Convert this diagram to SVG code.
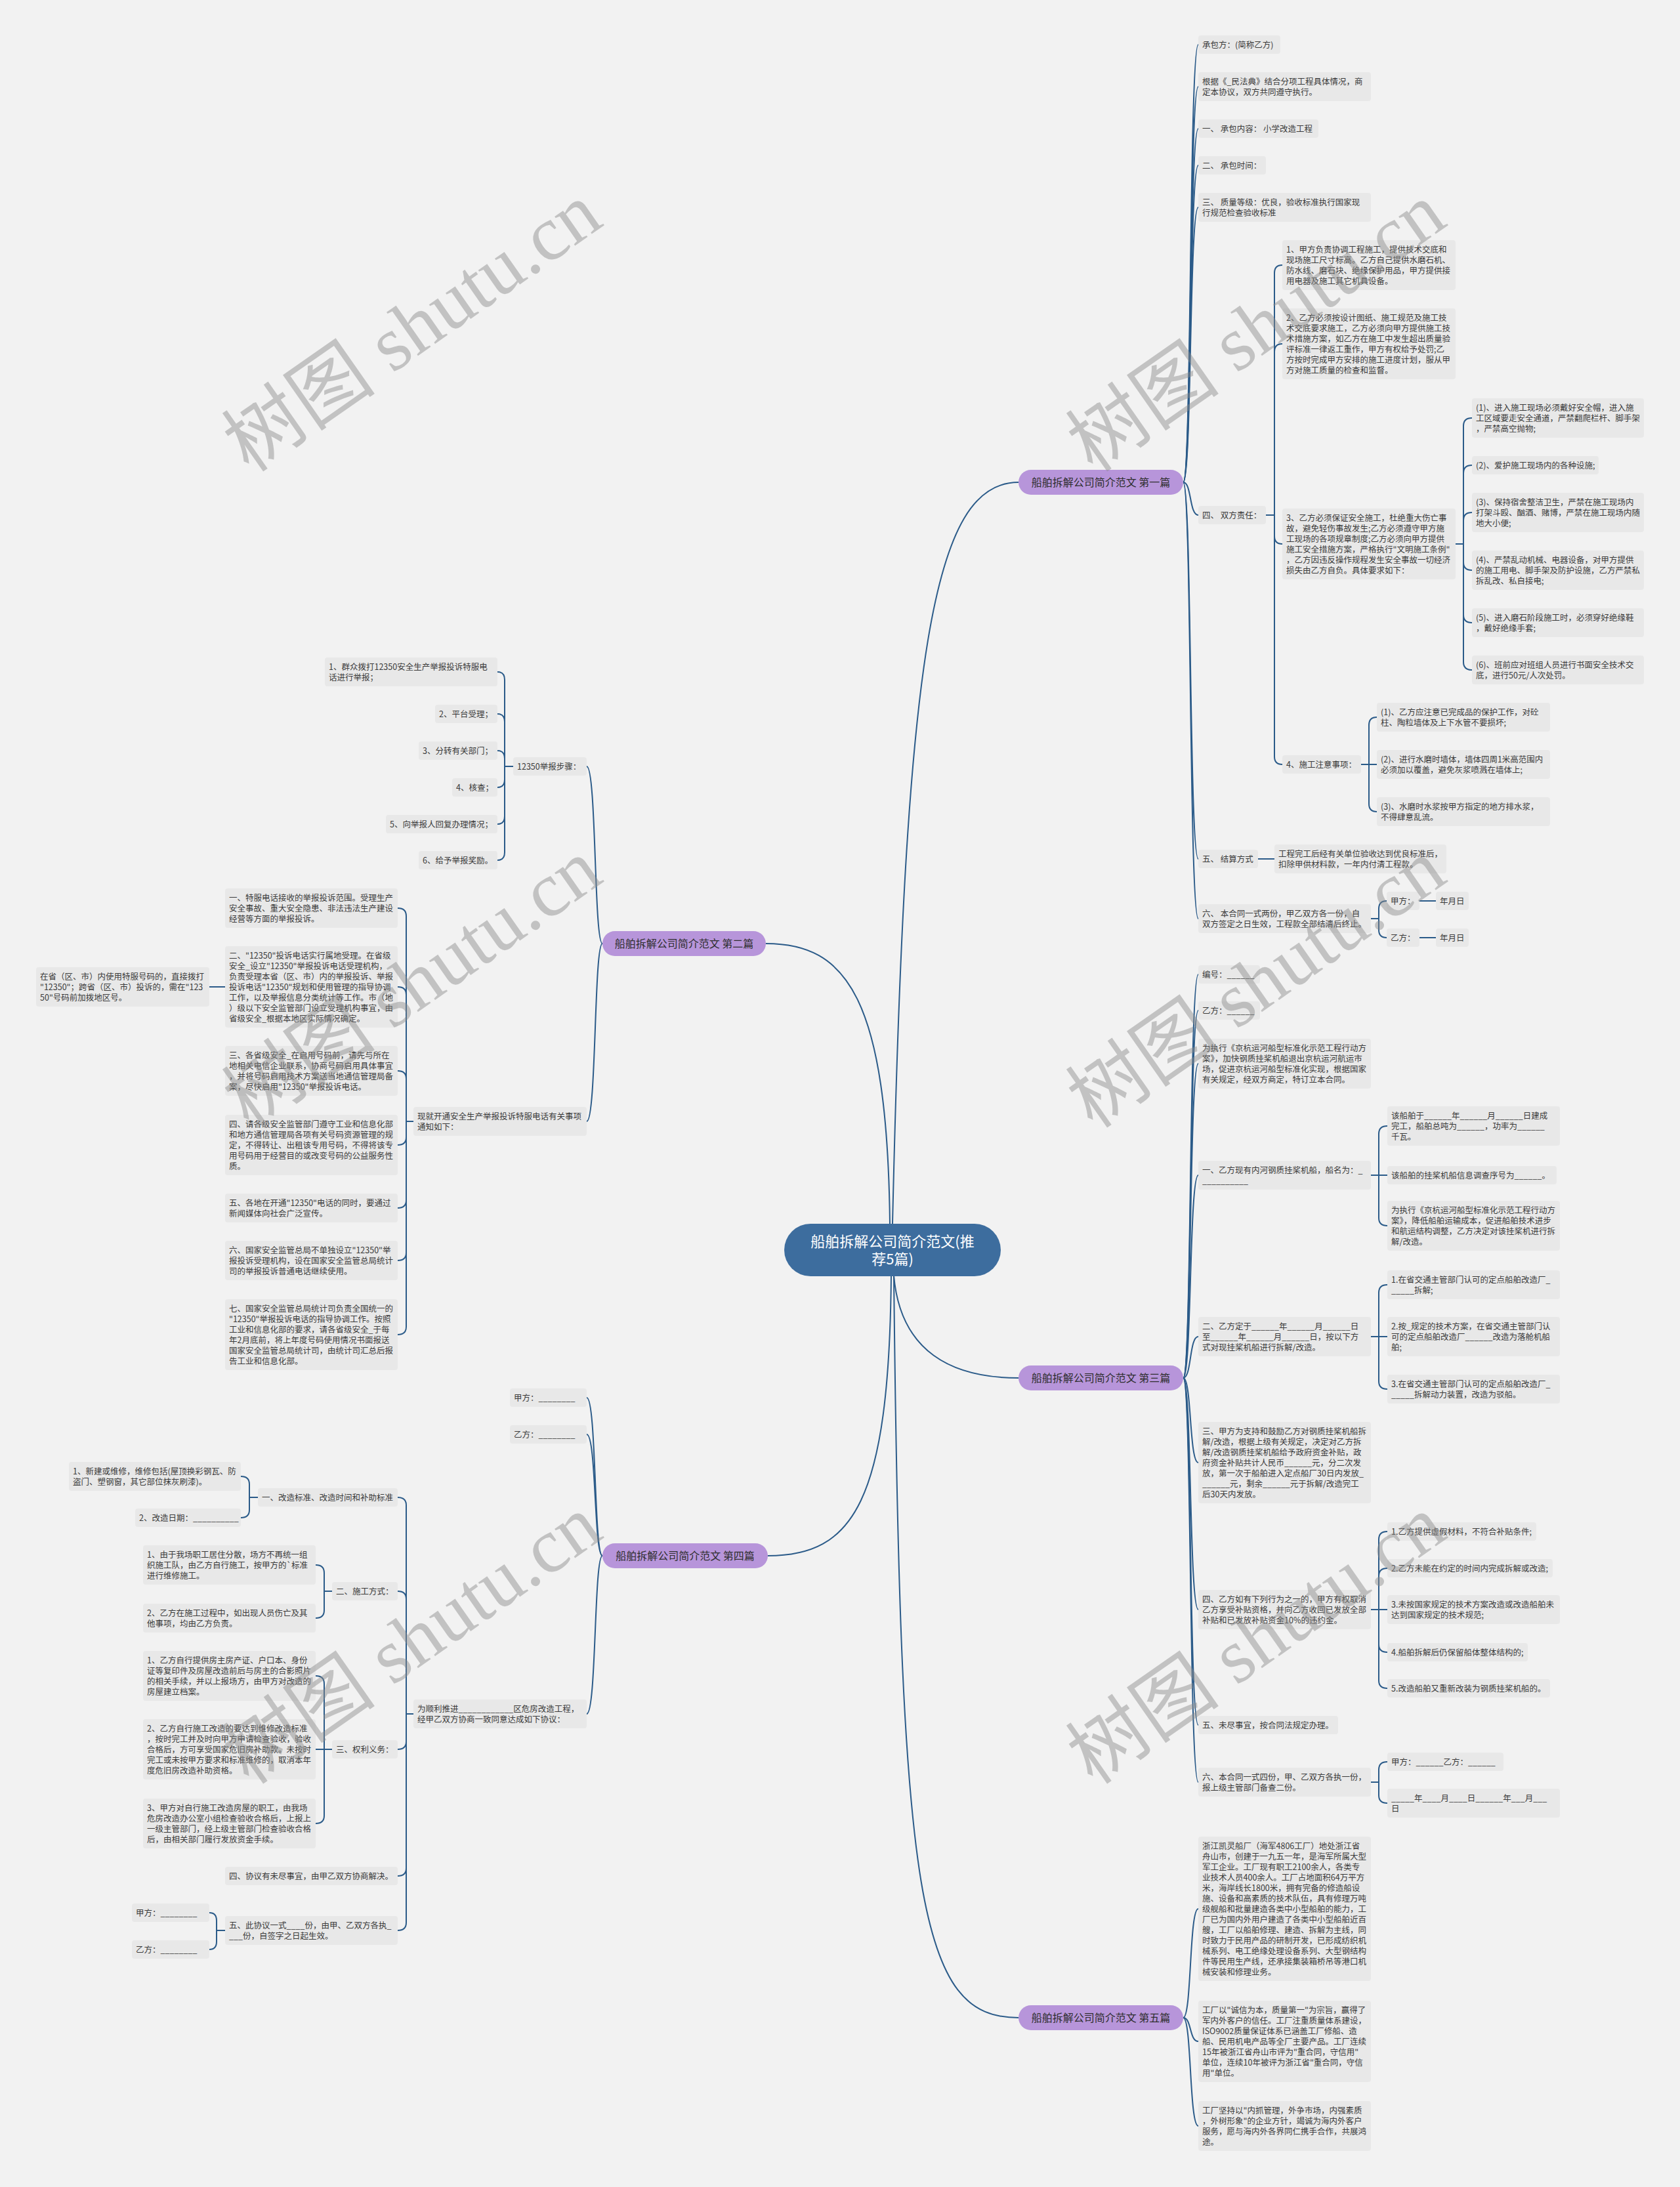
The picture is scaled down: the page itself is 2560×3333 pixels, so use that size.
<svg xmlns="http://www.w3.org/2000/svg" width="2560" height="3333" viewBox="0 0 2560 3333">
<style>
.lb{fill:#e8e8e8}
.lt{font-family:"Noto Sans CJK SC","Noto Sans",sans-serif;font-size:12.5px;fill:#3a3a3a}
.bn{fill:#b795da}
.bt{font-family:"Noto Sans CJK SC",sans-serif;font-size:16px;fill:#2e2e2e;text-anchor:middle}
.cn{fill:#3d6d9e}
.ct{font-family:"Noto Sans CJK SC",sans-serif;font-size:22px;fill:#ffffff;text-anchor:middle}
.edges path{fill:none;stroke:#2b5b89;stroke-width:2}
.wm{font-family:"Liberation Serif","Noto Sans CJK SC",serif;font-size:118px;fill:#8a8a8a;opacity:0.45}
</style>
<rect x="0" y="0" width="2560" height="3333" fill="#f2f2f2"/>
<g class="edges" id="connectors">
<path d="M1360 1865 C1380 1000 1420 735 1552 735"/>
<path d="M1356 1865 C1352 1520 1290 1438 1167 1438"/>
<path d="M1362 1944 C1372 2060 1450 2100 1552 2100"/>
<path d="M1358 1944 C1355 2290 1300 2371 1170 2371"/>
<path d="M1362 1944 C1372 2900 1400 3075 1552 3075"/>
<path d="M1803 735 C1816 735 1812 68 1826 68"/>
<path d="M1803 735 C1816 735 1812 132 1826 132"/>
<path d="M1803 735 C1816 735 1812 196 1826 196"/>
<path d="M1803 735 C1816 735 1812 252 1826 252"/>
<path d="M1803 735 C1816 735 1812 316 1826 316"/>
<path d="M1803 735 C1816 735 1812 785 1826 785"/>
<path d="M1803 735 C1816 735 1812 1309 1826 1309"/>
<path d="M1803 735 C1816 735 1812 1400 1826 1400"/>
<path d="M1929 785 H1942 V416 Q1942 404 1954 404"/>
<path d="M1929 785 H1942 V536 Q1942 524 1954 524"/>
<path d="M1929 785 H1942 V817 Q1942 829 1954 829"/>
<path d="M1929 785 H1942 V1153 Q1942 1165 1954 1165"/>
<path d="M2218 829 H2230 V649 Q2230 637 2243 637"/>
<path d="M2218 829 H2230 V721 Q2230 709 2243 709"/>
<path d="M2218 829 H2230 V793 Q2230 781 2243 781"/>
<path d="M2218 829 H2230 V857 Q2230 869 2243 869"/>
<path d="M2218 829 H2230 V937 Q2230 949 2243 949"/>
<path d="M2218 829 H2230 V1009 Q2230 1021 2243 1021"/>
<path d="M2074 1165 H2086 V1105 Q2086 1093 2098 1093"/>
<path d="M2074 1165 H2098"/>
<path d="M2074 1165 H2086 V1225 Q2086 1237 2098 1237"/>
<path d="M1917 1309 H1942"/>
<path d="M2089 1400 H2101 V1385 Q2101 1373 2113 1373"/>
<path d="M2089 1400 H2101 V1417 Q2101 1429 2113 1429"/>
<path d="M2163 1373 H2188"/>
<path d="M2163 1429 H2188"/>
<path d="M1803 2100 C1816 2100 1812 1485 1826 1485"/>
<path d="M1803 2100 C1816 2100 1812 1540 1826 1540"/>
<path d="M1803 2100 C1816 2100 1812 1621 1826 1621"/>
<path d="M1803 2100 C1816 2100 1812 1791 1826 1791"/>
<path d="M1803 2100 C1816 2100 1812 2037 1826 2037"/>
<path d="M1803 2100 C1816 2100 1812 2229 1826 2229"/>
<path d="M1803 2100 C1816 2100 1812 2453 1826 2453"/>
<path d="M1803 2100 C1816 2100 1812 2629 1826 2629"/>
<path d="M1803 2100 C1816 2100 1812 2716 1826 2716"/>
<path d="M2089 1791 H2101 V1728 Q2101 1716 2114 1716"/>
<path d="M2089 1791 H2114"/>
<path d="M2089 1791 H2101 V1856 Q2101 1868 2114 1868"/>
<path d="M2089 2037 H2101 V1970 Q2101 1958 2114 1958"/>
<path d="M2089 2037 H2114"/>
<path d="M2089 2037 H2101 V2105 Q2101 2117 2114 2117"/>
<path d="M2089 2453 H2101 V2346 Q2101 2334 2114 2334"/>
<path d="M2089 2453 H2101 V2402 Q2101 2390 2114 2390"/>
<path d="M2089 2453 H2114"/>
<path d="M2089 2453 H2101 V2506 Q2101 2518 2114 2518"/>
<path d="M2089 2453 H2101 V2561 Q2101 2573 2114 2573"/>
<path d="M2089 2716 H2101 V2697 Q2101 2685 2114 2685"/>
<path d="M2089 2716 H2101 V2736 Q2101 2748 2114 2748"/>
<path d="M1803 3075 C1816 3075 1812 2909 1826 2909"/>
<path d="M1803 3075 C1816 3075 1812 3111 1826 3111"/>
<path d="M1803 3075 C1816 3075 1812 3240 1826 3240"/>
<path d="M918 1438 C905 1438 909 1168 894 1168"/>
<path d="M918 1438 C905 1438 909 1709 894 1709"/>
<path d="M782 1168 H769 V1036 Q769 1024 758 1024"/>
<path d="M782 1168 H769 V1100 Q769 1088 758 1088"/>
<path d="M782 1168 H769 V1156 Q769 1144 758 1144"/>
<path d="M782 1168 H769 V1188 Q769 1200 758 1200"/>
<path d="M782 1168 H769 V1244 Q769 1256 758 1256"/>
<path d="M782 1168 H769 V1299 Q769 1311 758 1311"/>
<path d="M630 1709 H619 V1396 Q619 1384 606 1384"/>
<path d="M630 1709 H619 V1516 Q619 1504 606 1504"/>
<path d="M630 1709 H619 V1644 Q619 1632 606 1632"/>
<path d="M630 1709 H619 V1733 Q619 1745 606 1745"/>
<path d="M630 1709 H619 V1829 Q619 1841 606 1841"/>
<path d="M630 1709 H619 V1909 Q619 1921 606 1921"/>
<path d="M630 1709 H619 V2022 Q619 2034 606 2034"/>
<path d="M343 1504 H319"/>
<path d="M918 2371 C905 2371 909 2130 894 2130"/>
<path d="M918 2371 C905 2371 909 2186 894 2186"/>
<path d="M918 2371 C905 2371 909 2612 894 2612"/>
<path d="M630 2612 H619 V2294 Q619 2282 606 2282"/>
<path d="M630 2612 H619 V2437 Q619 2425 606 2425"/>
<path d="M630 2612 H619 V2654 Q619 2666 606 2666"/>
<path d="M630 2612 H619 V2847 Q619 2859 606 2859"/>
<path d="M630 2612 H619 V2930 Q619 2942 606 2942"/>
<path d="M393 2282 H380 V2262 Q380 2250 367 2250"/>
<path d="M393 2282 H380 V2301 Q380 2313 367 2313"/>
<path d="M506 2425 H494 V2397 Q494 2385 481 2385"/>
<path d="M506 2425 H494 V2454 Q494 2466 481 2466"/>
<path d="M506 2666 H494 V2566 Q494 2554 481 2554"/>
<path d="M506 2666 H481"/>
<path d="M506 2666 H494 V2767 Q494 2779 481 2779"/>
<path d="M343 2942 H330 V2927 Q330 2915 319 2915"/>
<path d="M343 2942 H330 V2959 Q330 2971 319 2971"/>
</g>
<g id="n0"><rect class="cn" x="1195" y="1865" width="330" height="80" rx="40"/><text class="ct" x="1360" y="1900">船舶拆解公司简介范文(推</text><text class="ct" x="1360" y="1927">荐5篇)</text></g>
<g id="b1"><rect class="bn" x="1552" y="716" width="251" height="38" rx="19"/><text class="bt" x="1677.5" y="741">船舶拆解公司简介范文 第一篇</text></g>
<g id="b2"><rect class="bn" x="918" y="1419" width="249" height="38" rx="19"/><text class="bt" x="1042.5" y="1444">船舶拆解公司简介范文 第二篇</text></g>
<g id="b3"><rect class="bn" x="1552" y="2081" width="251" height="38" rx="19"/><text class="bt" x="1677.5" y="2106">船舶拆解公司简介范文 第三篇</text></g>
<g id="b4"><rect class="bn" x="918" y="2352" width="252" height="38" rx="19"/><text class="bt" x="1044" y="2377">船舶拆解公司简介范文 第四篇</text></g>
<g id="b5"><rect class="bn" x="1552" y="3056" width="251" height="38" rx="19"/><text class="bt" x="1677.5" y="3081">船舶拆解公司简介范文 第五篇</text></g>

<g id="b1-1"><rect class="lb" x="1826" y="54" width="125" height="28" rx="4"/><text class="lt" x="1832" y="72.5">承包方：(简称乙方)</text></g>
<g id="b1-2"><rect class="lb" x="1826" y="110" width="263" height="44" rx="4"/><text class="lt"><tspan x="1832" y="128.5">根据《_民法典》结合分项工程具体情况，商</tspan><tspan x="1832" y="144.5">定本协议，双方共同遵守执行。</tspan></text></g>
<g id="b1-3"><rect class="lb" x="1826" y="182" width="183" height="28" rx="4"/><text class="lt" x="1832" y="200.5">一、 承包内容： 小学改造工程</text></g>
<g id="b1-4"><rect class="lb" x="1826" y="238" width="103" height="28" rx="4"/><text class="lt" x="1832" y="256.5">二、 承包时间：</text></g>
<g id="b1-5"><rect class="lb" x="1826" y="294" width="263" height="44" rx="4"/><text class="lt"><tspan x="1832" y="312.5">三、 质量等级：优良，验收标准执行国家现</tspan><tspan x="1832" y="328.5">行规范检查验收标准</tspan></text></g>
<g id="b1-6"><rect class="lb" x="1826" y="771" width="103" height="28" rx="4"/><text class="lt" x="1832" y="789.5">四、 双方责任：</text></g>
<g id="b1-6-1"><rect class="lb" x="1954" y="366" width="264" height="76" rx="4"/><text class="lt"><tspan x="1960" y="384.5">1、甲方负责协调工程施工，提供技术交底和</tspan><tspan x="1960" y="400.5">现场施工尺寸标高。乙方自己提供水磨石机、</tspan><tspan x="1960" y="416.5">防水线、磨石块、绝缘保护用品，甲方提供接</tspan><tspan x="1960" y="432.5">用电器及施工其它机具设备。</tspan></text></g>
<g id="b1-6-2"><rect class="lb" x="1954" y="470" width="264" height="108" rx="4"/><text class="lt"><tspan x="1960" y="488.5">2、乙方必须按设计图纸、施工规范及施工技</tspan><tspan x="1960" y="504.5">术交底要求施工，乙方必须向甲方提供施工技</tspan><tspan x="1960" y="520.5">术措施方案，如乙方在施工中发生超出质量验</tspan><tspan x="1960" y="536.5">评标准一律返工重作，甲方有权给予处罚;乙</tspan><tspan x="1960" y="552.5">方按时完成甲方安排的施工进度计划，服从甲</tspan><tspan x="1960" y="568.5">方对施工质量的检查和监督。</tspan></text></g>
<g id="b1-6-3"><rect class="lb" x="1954" y="775" width="264" height="108" rx="4"/><text class="lt"><tspan x="1960" y="793.5">3、乙方必须保证安全施工，杜绝重大伤亡事</tspan><tspan x="1960" y="809.5">故，避免轻伤事故发生;乙方必须遵守甲方施</tspan><tspan x="1960" y="825.5">工现场的各项规章制度;乙方必须向甲方提供</tspan><tspan x="1960" y="841.5">施工安全措施方案，严格执行"文明施工条例"</tspan><tspan x="1960" y="857.5">，乙方因违反操作规程发生安全事故一切经济</tspan><tspan x="1960" y="873.5">损失由乙方自负。具体要求如下：</tspan></text></g>
<g id="b1-6-3-1"><rect class="lb" x="2243" y="607" width="262" height="60" rx="4"/><text class="lt"><tspan x="2249" y="625.5">(1)、进入施工现场必须戴好安全帽，进入施</tspan><tspan x="2249" y="641.5">工区域要走安全通道，严禁翻爬栏杆、脚手架</tspan><tspan x="2249" y="657.5">，严禁高空抛物;</tspan></text></g>
<g id="b1-6-3-2"><rect class="lb" x="2243" y="695" width="193" height="28" rx="4"/><text class="lt" x="2249" y="713.5">(2)、爱护施工现场内的各种设施;</text></g>
<g id="b1-6-3-3"><rect class="lb" x="2243" y="751" width="262" height="60" rx="4"/><text class="lt"><tspan x="2249" y="769.5">(3)、保持宿舍整洁卫生，严禁在施工现场内</tspan><tspan x="2249" y="785.5">打架斗殴、酗酒、赌博，严禁在施工现场内随</tspan><tspan x="2249" y="801.5">地大小便;</tspan></text></g>
<g id="b1-6-3-4"><rect class="lb" x="2243" y="839" width="262" height="60" rx="4"/><text class="lt"><tspan x="2249" y="857.5">(4)、严禁乱动机械、电器设备，对甲方提供</tspan><tspan x="2249" y="873.5">的施工用电、脚手架及防护设施，乙方严禁私</tspan><tspan x="2249" y="889.5">拆乱改、私自接电;</tspan></text></g>
<g id="b1-6-3-5"><rect class="lb" x="2243" y="927" width="262" height="44" rx="4"/><text class="lt"><tspan x="2249" y="945.5">(5)、进入磨石阶段施工时，必须穿好绝缘鞋</tspan><tspan x="2249" y="961.5">，戴好绝缘手套;</tspan></text></g>
<g id="b1-6-3-6"><rect class="lb" x="2243" y="999" width="262" height="44" rx="4"/><text class="lt"><tspan x="2249" y="1017.5">(6)、班前应对班组人员进行书面安全技术交</tspan><tspan x="2249" y="1033.5">底，进行50元/人次处罚。</tspan></text></g>
<g id="b1-6-4"><rect class="lb" x="1954" y="1151" width="120" height="28" rx="4"/><text class="lt" x="1960" y="1169.5">4、施工注意事项：</text></g>
<g id="b1-6-4-1"><rect class="lb" x="2098" y="1071" width="264" height="44" rx="4"/><text class="lt"><tspan x="2104" y="1089.5">(1)、乙方应注意已完成品的保护工作，对砼</tspan><tspan x="2104" y="1105.5">柱、陶粒墙体及上下水管不要损坏;</tspan></text></g>
<g id="b1-6-4-2"><rect class="lb" x="2098" y="1143" width="264" height="44" rx="4"/><text class="lt"><tspan x="2104" y="1161.5">(2)、进行水磨时墙体，墙体四周1米高范围内</tspan><tspan x="2104" y="1177.5">必须加以覆盖，避免灰浆喷溅在墙体上;</tspan></text></g>
<g id="b1-6-4-3"><rect class="lb" x="2098" y="1215" width="264" height="44" rx="4"/><text class="lt"><tspan x="2104" y="1233.5">(3)、水磨时水浆按甲方指定的地方排水浆，</tspan><tspan x="2104" y="1249.5">不得肆意乱流。</tspan></text></g>
<g id="b1-7"><rect class="lb" x="1826" y="1295" width="91" height="28" rx="4"/><text class="lt" x="1832" y="1313.5">五、 结算方式</text></g>
<g id="b1-7-1"><rect class="lb" x="1942" y="1287" width="262" height="44" rx="4"/><text class="lt"><tspan x="1948" y="1305.5">工程完工后经有关单位验收达到优良标准后，</tspan><tspan x="1948" y="1321.5">扣除甲供材料款，一年内付清工程款。</tspan></text></g>
<g id="b1-8"><rect class="lb" x="1826" y="1378" width="263" height="44" rx="4"/><text class="lt"><tspan x="1832" y="1396.5">六、 本合同一式两份，甲乙双方各一份，自</tspan><tspan x="1832" y="1412.5">双方签定之日生效，工程款全部结清后终止。</tspan></text></g>
<g id="b1-8-1"><rect class="lb" x="2113" y="1359" width="50" height="28" rx="4"/><text class="lt" x="2119" y="1377.5">甲方：</text></g>
<g id="b1-8-1-1"><rect class="lb" x="2188" y="1359" width="50" height="28" rx="4"/><text class="lt" x="2194" y="1377.5">年月日</text></g>
<g id="b1-8-2"><rect class="lb" x="2113" y="1415" width="50" height="28" rx="4"/><text class="lt" x="2119" y="1433.5">乙方：</text></g>
<g id="b1-8-2-1"><rect class="lb" x="2188" y="1415" width="50" height="28" rx="4"/><text class="lt" x="2194" y="1433.5">年月日</text></g>

<g id="b3-1"><rect class="lb" x="1826" y="1471" width="94" height="28" rx="4"/><text class="lt" x="1832" y="1489.5">编号：______</text></g>
<g id="b3-2"><rect class="lb" x="1826" y="1526" width="94" height="28" rx="4"/><text class="lt" x="1832" y="1544.5">乙方：______</text></g>
<g id="b3-3"><rect class="lb" x="1826" y="1583" width="263" height="76" rx="4"/><text class="lt"><tspan x="1832" y="1601.5">为执行《京杭运河船型标准化示范工程行动方</tspan><tspan x="1832" y="1617.5">案》，加快钢质挂桨机船退出京杭运河航运市</tspan><tspan x="1832" y="1633.5">场，促进京杭运河船型标准化实现，根据国家</tspan><tspan x="1832" y="1649.5">有关规定，经双方商定，特订立本合同。</tspan></text></g>
<g id="b3-4"><rect class="lb" x="1826" y="1769" width="263" height="44" rx="4"/><text class="lt"><tspan x="1832" y="1787.5">一、乙方现有内河钢质挂桨机船，船名为：_</tspan><tspan x="1832" y="1803.5">__________</tspan></text></g>
<g id="b3-4-1"><rect class="lb" x="2114" y="1686" width="263" height="60" rx="4"/><text class="lt"><tspan x="2120" y="1704.5">该船舶于______年______月______日建成</tspan><tspan x="2120" y="1720.5">完工，船舶总吨为______，功率为______</tspan><tspan x="2120" y="1736.5">千瓦。</tspan></text></g>
<g id="b3-4-2"><rect class="lb" x="2114" y="1777" width="258" height="28" rx="4"/><text class="lt" x="2120" y="1795.5">该船舶的挂桨机船信息调查序号为______。</text></g>
<g id="b3-4-3"><rect class="lb" x="2114" y="1830" width="263" height="76" rx="4"/><text class="lt"><tspan x="2120" y="1848.5">为执行《京杭运河船型标准化示范工程行动方</tspan><tspan x="2120" y="1864.5">案》，降低船舶运输成本，促进船舶技术进步</tspan><tspan x="2120" y="1880.5">和航运结构调整，乙方决定对该挂桨机进行拆</tspan><tspan x="2120" y="1896.5">解/改造。</tspan></text></g>
<g id="b3-5"><rect class="lb" x="1826" y="2007" width="263" height="60" rx="4"/><text class="lt"><tspan x="1832" y="2025.5">二、乙方定于______年______月______日</tspan><tspan x="1832" y="2041.5">至______年______月______日，按以下方</tspan><tspan x="1832" y="2057.5">式对现挂桨机船进行拆解/改造。</tspan></text></g>
<g id="b3-5-1"><rect class="lb" x="2114" y="1936" width="263" height="44" rx="4"/><text class="lt"><tspan x="2120" y="1954.5">1.在省交通主管部门认可的定点船舶改造厂_</tspan><tspan x="2120" y="1970.5">_____拆解;</tspan></text></g>
<g id="b3-5-2"><rect class="lb" x="2114" y="2007" width="263" height="60" rx="4"/><text class="lt"><tspan x="2120" y="2025.5">2.按_规定的技术方案，在省交通主管部门认</tspan><tspan x="2120" y="2041.5">可的定点船舶改造厂______改造为落舱机船</tspan><tspan x="2120" y="2057.5">舶;</tspan></text></g>
<g id="b3-5-3"><rect class="lb" x="2114" y="2095" width="263" height="44" rx="4"/><text class="lt"><tspan x="2120" y="2113.5">3.在省交通主管部门认可的定点船舶改造厂_</tspan><tspan x="2120" y="2129.5">_____拆解动力装置，改造为驳船。</tspan></text></g>
<g id="b3-6"><rect class="lb" x="1826" y="2167" width="263" height="124" rx="4"/><text class="lt"><tspan x="1832" y="2185.5">三、甲方为支持和鼓励乙方对钢质挂桨机船拆</tspan><tspan x="1832" y="2201.5">解/改造，根据上级有关规定，决定对乙方拆</tspan><tspan x="1832" y="2217.5">解/改造钢质挂桨机船给予政府资金补贴，政</tspan><tspan x="1832" y="2233.5">府资金补贴共计人民币______元，分二次发</tspan><tspan x="1832" y="2249.5">放，第一次于船舶进入定点船厂30日内发放_</tspan><tspan x="1832" y="2265.5">______元，剩余______元于拆解/改造完工</tspan><tspan x="1832" y="2281.5">后30天内发放。</tspan></text></g>
<g id="b3-7"><rect class="lb" x="1826" y="2423" width="263" height="60" rx="4"/><text class="lt"><tspan x="1832" y="2441.5">四、乙方如有下列行为之一的，甲方有权取消</tspan><tspan x="1832" y="2457.5">乙方享受补贴资格，并向乙方收回已发放全部</tspan><tspan x="1832" y="2473.5">补贴和已发放补贴资金10%的违约金。</tspan></text></g>
<g id="b3-7-1"><rect class="lb" x="2114" y="2320" width="227" height="28" rx="4"/><text class="lt" x="2120" y="2338.5">1.乙方提供虚假材料，不符合补贴条件;</text></g>
<g id="b3-7-2"><rect class="lb" x="2114" y="2376" width="252" height="28" rx="4"/><text class="lt" x="2120" y="2394.5">2.乙方未能在约定的时间内完成拆解或改造;</text></g>
<g id="b3-7-3"><rect class="lb" x="2114" y="2431" width="263" height="44" rx="4"/><text class="lt"><tspan x="2120" y="2449.5">3.未按国家规定的技术方案改造或改造船舶未</tspan><tspan x="2120" y="2465.5">达到国家规定的技术规范;</tspan></text></g>
<g id="b3-7-4"><rect class="lb" x="2114" y="2504" width="214" height="28" rx="4"/><text class="lt" x="2120" y="2522.5">4.船舶拆解后仍保留船体整体结构的;</text></g>
<g id="b3-7-5"><rect class="lb" x="2114" y="2559" width="248" height="28" rx="4"/><text class="lt" x="2120" y="2577.5">5.改造船舶又重新改装为钢质挂桨机船的。</text></g>
<g id="b3-8"><rect class="lb" x="1826" y="2615" width="213" height="28" rx="4"/><text class="lt" x="1832" y="2633.5">五、未尽事宜，按合同法规定办理。</text></g>
<g id="b3-9"><rect class="lb" x="1826" y="2694" width="263" height="44" rx="4"/><text class="lt"><tspan x="1832" y="2712.5">六、本合同一式四份，甲、乙双方各执一份，</tspan><tspan x="1832" y="2728.5">报上级主管部门备查二份。</tspan></text></g>
<g id="b3-9-1"><rect class="lb" x="2114" y="2671" width="177" height="28" rx="4"/><text class="lt" x="2120" y="2689.5">甲方：______乙方：______</text></g>
<g id="b3-9-2"><rect class="lb" x="2114" y="2726" width="263" height="44" rx="4"/><text class="lt"><tspan x="2120" y="2744.5">_____年____月____日______年___月___</tspan><tspan x="2120" y="2760.5">日</tspan></text></g>

<g id="b5-1"><rect class="lb" x="1826" y="2799" width="263" height="220" rx="4"/><text class="lt"><tspan x="1832" y="2817.5">浙江凯灵船厂（海军4806工厂）地处浙江省</tspan><tspan x="1832" y="2833.5">舟山市，创建于一九五一年，是海军所属大型</tspan><tspan x="1832" y="2849.5">军工企业。工厂现有职工2100余人，各类专</tspan><tspan x="1832" y="2865.5">业技术人员400余人。工厂占地面积64万平方</tspan><tspan x="1832" y="2881.5">米，海岸线长1800米，拥有完备的修造船设</tspan><tspan x="1832" y="2897.5">施、设备和高素质的技术队伍，具有修理万吨</tspan><tspan x="1832" y="2913.5">级舰船和批量建造各类中小型船舶的能力，工</tspan><tspan x="1832" y="2929.5">厂已为国内外用户建造了各类中小型船舶近百</tspan><tspan x="1832" y="2945.5">艘，工厂以船舶修理、建造、拆解为主线，同</tspan><tspan x="1832" y="2961.5">时致力于民用产品的研制开发，已形成纺织机</tspan><tspan x="1832" y="2977.5">械系列、电工绝缘处理设备系列、大型钢结构</tspan><tspan x="1832" y="2993.5">件等民用生产线，还承接集装箱桥吊等港口机</tspan><tspan x="1832" y="3009.5">械安装和修理业务。</tspan></text></g>
<g id="b5-2"><rect class="lb" x="1826" y="3049" width="263" height="124" rx="4"/><text class="lt"><tspan x="1832" y="3067.5">工厂以"诚信为本，质量第一"为宗旨，赢得了</tspan><tspan x="1832" y="3083.5">军内外客户的信任。工厂注重质量体系建设，</tspan><tspan x="1832" y="3099.5">ISO9002质量保证体系已涵盖工厂修船、造</tspan><tspan x="1832" y="3115.5">船、民用机电产品等全厂主要产品。工厂连续</tspan><tspan x="1832" y="3131.5">15年被浙江省舟山市评为"重合同，守信用"</tspan><tspan x="1832" y="3147.5">单位，连续10年被评为浙江省"重合同，守信</tspan><tspan x="1832" y="3163.5">用"单位。</tspan></text></g>
<g id="b5-3"><rect class="lb" x="1826" y="3202" width="263" height="76" rx="4"/><text class="lt"><tspan x="1832" y="3220.5">工厂坚持以"内抓管理，外争市场，内强素质</tspan><tspan x="1832" y="3236.5">，外树形象"的企业方针，竭诚为海内外客户</tspan><tspan x="1832" y="3252.5">服务，愿与海内外各界同仁携手合作，共展鸿</tspan><tspan x="1832" y="3268.5">途。</tspan></text></g>

<g id="b2-1"><rect class="lb" x="782" y="1154" width="112" height="28" rx="4"/><text class="lt" x="788" y="1172.5">12350举报步骤：</text></g>
<g id="b2-1-1"><rect class="lb" x="495" y="1002" width="263" height="44" rx="4"/><text class="lt"><tspan x="501" y="1020.5">1、群众拨打12350安全生产举报投诉特服电</tspan><tspan x="501" y="1036.5">话进行举报；</tspan></text></g>
<g id="b2-1-2"><rect class="lb" x="663" y="1074" width="95" height="28" rx="4"/><text class="lt" x="669" y="1092.5">2、平台受理；</text></g>
<g id="b2-1-3"><rect class="lb" x="638" y="1130" width="120" height="28" rx="4"/><text class="lt" x="644" y="1148.5">3、分转有关部门；</text></g>
<g id="b2-1-4"><rect class="lb" x="689" y="1186" width="69" height="28" rx="4"/><text class="lt" x="695" y="1204.5">4、核查；</text></g>
<g id="b2-1-5"><rect class="lb" x="588" y="1242" width="170" height="28" rx="4"/><text class="lt" x="594" y="1260.5">5、向举报人回复办理情况；</text></g>
<g id="b2-1-6"><rect class="lb" x="638" y="1297" width="120" height="28" rx="4"/><text class="lt" x="644" y="1315.5">6、给予举报奖励。</text></g>
<g id="b2-2"><rect class="lb" x="630" y="1687" width="264" height="44" rx="4"/><text class="lt"><tspan x="636" y="1705.5">现就开通安全生产举报投诉特服电话有关事项</tspan><tspan x="636" y="1721.5">通知如下：</tspan></text></g>
<g id="b2-2-1"><rect class="lb" x="343" y="1354" width="263" height="60" rx="4"/><text class="lt"><tspan x="349" y="1372.5">一、特服电话接收的举报投诉范围。受理生产</tspan><tspan x="349" y="1388.5">安全事故、重大安全隐患、非法违法生产建设</tspan><tspan x="349" y="1404.5">经营等方面的举报投诉。</tspan></text></g>
<g id="b2-2-2"><rect class="lb" x="343" y="1442" width="263" height="124" rx="4"/><text class="lt"><tspan x="349" y="1460.5">二、"12350"投诉电话实行属地受理。在省级</tspan><tspan x="349" y="1476.5">安全_设立"12350"举报投诉电话受理机构，</tspan><tspan x="349" y="1492.5">负责受理本省（区、市）内的举报投诉、举报</tspan><tspan x="349" y="1508.5">投诉电话"12350"规划和使用管理的指导协调</tspan><tspan x="349" y="1524.5">工作，以及举报信息分类统计等工作。市（地</tspan><tspan x="349" y="1540.5">）级以下安全监管部门设立受理机构事宜，由</tspan><tspan x="349" y="1556.5">省级安全_根据本地区实际情况确定。</tspan></text></g>
<g id="b2-2-2-1"><rect class="lb" x="55" y="1474" width="264" height="60" rx="4"/><text class="lt"><tspan x="61" y="1492.5">在省（区、市）内使用特服号码的，直接拨打</tspan><tspan x="61" y="1508.5">"12350"；跨省（区、市）投诉的，需在"123</tspan><tspan x="61" y="1524.5">50"号码前加拨地区号。</tspan></text></g>
<g id="b2-2-3"><rect class="lb" x="343" y="1594" width="263" height="76" rx="4"/><text class="lt"><tspan x="349" y="1612.5">三、各省级安全_在启用号码前，请先与所在</tspan><tspan x="349" y="1628.5">地相关电信企业联系，协商号码启用具体事宜</tspan><tspan x="349" y="1644.5">，并将号码启用技术方案送当地通信管理局备</tspan><tspan x="349" y="1660.5">案，尽快启用"12350"举报投诉电话。</tspan></text></g>
<g id="b2-2-4"><rect class="lb" x="343" y="1699" width="263" height="92" rx="4"/><text class="lt"><tspan x="349" y="1717.5">四、请各级安全监管部门遵守工业和信息化部</tspan><tspan x="349" y="1733.5">和地方通信管理局各项有关号码资源管理的规</tspan><tspan x="349" y="1749.5">定，不得转让、出租该专用号码，不得将该专</tspan><tspan x="349" y="1765.5">用号码用于经营目的或改变号码的公益服务性</tspan><tspan x="349" y="1781.5">质。</tspan></text></g>
<g id="b2-2-5"><rect class="lb" x="343" y="1819" width="263" height="44" rx="4"/><text class="lt"><tspan x="349" y="1837.5">五、各地在开通"12350"电话的同时，要通过</tspan><tspan x="349" y="1853.5">新闻媒体向社会广泛宣传。</tspan></text></g>
<g id="b2-2-6"><rect class="lb" x="343" y="1891" width="263" height="60" rx="4"/><text class="lt"><tspan x="349" y="1909.5">六、国家安全监管总局不单独设立"12350"举</tspan><tspan x="349" y="1925.5">报投诉受理机构，设在国家安全监管总局统计</tspan><tspan x="349" y="1941.5">司的举报投诉普通电话继续使用。</tspan></text></g>
<g id="b2-2-7"><rect class="lb" x="343" y="1980" width="263" height="108" rx="4"/><text class="lt"><tspan x="349" y="1998.5">七、国家安全监管总局统计司负责全国统一的</tspan><tspan x="349" y="2014.5">"12350"举报投诉电话的指导协调工作。按照</tspan><tspan x="349" y="2030.5">工业和信息化部的要求，请各省级安全_于每</tspan><tspan x="349" y="2046.5">年2月底前，将上年度号码使用情况书面报送</tspan><tspan x="349" y="2062.5">国家安全监管总局统计司，由统计司汇总后报</tspan><tspan x="349" y="2078.5">告工业和信息化部。</tspan></text></g>

<g id="b4-1"><rect class="lb" x="777" y="2116" width="117" height="28" rx="4"/><text class="lt" x="783" y="2134.5">甲方：________</text></g>
<g id="b4-2"><rect class="lb" x="777" y="2172" width="117" height="28" rx="4"/><text class="lt" x="783" y="2190.5">乙方：________</text></g>
<g id="b4-3"><rect class="lb" x="630" y="2590" width="264" height="44" rx="4"/><text class="lt"><tspan x="636" y="2608.5">为顺利推进____________区危房改造工程，</tspan><tspan x="636" y="2624.5">经甲乙双方协商一致同意达成如下协议：</tspan></text></g>
<g id="b4-3-1"><rect class="lb" x="393" y="2268" width="213" height="28" rx="4"/><text class="lt" x="399" y="2286.5">一、改造标准、改造时间和补助标准</text></g>
<g id="b4-3-1-1"><rect class="lb" x="105" y="2228" width="262" height="44" rx="4"/><text class="lt"><tspan x="111" y="2246.5">1、新建或维修，维修包括(屋顶换彩钢瓦、防</tspan><tspan x="111" y="2262.5">盗门、塑钢窗，其它部位抹灰刷漆)。</tspan></text></g>
<g id="b4-3-1-2"><rect class="lb" x="206" y="2299" width="161" height="28" rx="4"/><text class="lt" x="212" y="2317.5">2、改造日期：__________</text></g>
<g id="b4-3-2"><rect class="lb" x="506" y="2411" width="100" height="28" rx="4"/><text class="lt" x="512" y="2429.5">二、施工方式：</text></g>
<g id="b4-3-2-1"><rect class="lb" x="218" y="2355" width="263" height="60" rx="4"/><text class="lt"><tspan x="224" y="2373.5">1、由于我场职工居住分散，场方不再统一组</tspan><tspan x="224" y="2389.5">织施工队，由乙方自行施工，按甲方的`标准</tspan><tspan x="224" y="2405.5">进行维修施工。</tspan></text></g>
<g id="b4-3-2-2"><rect class="lb" x="218" y="2444" width="263" height="44" rx="4"/><text class="lt"><tspan x="224" y="2462.5">2、乙方在施工过程中，如出现人员伤亡及其</tspan><tspan x="224" y="2478.5">他事项，均由乙方负责。</tspan></text></g>
<g id="b4-3-3"><rect class="lb" x="506" y="2652" width="100" height="28" rx="4"/><text class="lt" x="512" y="2670.5">三、权利义务：</text></g>
<g id="b4-3-3-1"><rect class="lb" x="218" y="2516" width="263" height="76" rx="4"/><text class="lt"><tspan x="224" y="2534.5">1、乙方自行提供房主房产证、户口本、身份</tspan><tspan x="224" y="2550.5">证等复印件及房屋改造前后与房主的合影照片</tspan><tspan x="224" y="2566.5">的相关手续，并以上报场方，由甲方对改造的</tspan><tspan x="224" y="2582.5">房屋建立档案。</tspan></text></g>
<g id="b4-3-3-2"><rect class="lb" x="218" y="2620" width="263" height="92" rx="4"/><text class="lt"><tspan x="224" y="2638.5">2、乙方自行施工改造的要达到维修改造标准</tspan><tspan x="224" y="2654.5">，按时完工并及时向甲方申请检查验收，验收</tspan><tspan x="224" y="2670.5">合格后，方可享受国家危旧房补助款。未按时</tspan><tspan x="224" y="2686.5">完工或未按甲方要求和标准维修的，取消本年</tspan><tspan x="224" y="2702.5">度危旧房改造补助资格。</tspan></text></g>
<g id="b4-3-3-3"><rect class="lb" x="218" y="2741" width="263" height="76" rx="4"/><text class="lt"><tspan x="224" y="2759.5">3、甲方对自行施工改造房屋的职工，由我场</tspan><tspan x="224" y="2775.5">危房改造办公室小组检查验收合格后，上报上</tspan><tspan x="224" y="2791.5">一级主管部门，经上级主管部门检查验收合格</tspan><tspan x="224" y="2807.5">后，由相关部门履行发放资金手续。</tspan></text></g>
<g id="b4-3-4"><rect class="lb" x="343" y="2845" width="263" height="28" rx="4"/><text class="lt" x="349" y="2863.5">四、协议有未尽事宜，由甲乙双方协商解决。</text></g>
<g id="b4-3-5"><rect class="lb" x="343" y="2920" width="263" height="44" rx="4"/><text class="lt"><tspan x="349" y="2938.5">五、此协议一式____份，由甲、乙双方各执_</tspan><tspan x="349" y="2954.5">___份，自签字之日起生效。</tspan></text></g>
<g id="b4-3-5-1"><rect class="lb" x="201" y="2901" width="118" height="28" rx="4"/><text class="lt" x="207" y="2919.5">甲方：________</text></g>
<g id="b4-3-5-2"><rect class="lb" x="201" y="2957" width="118" height="28" rx="4"/><text class="lt" x="207" y="2975.5">乙方：________</text></g>

<g id="watermarks">
<text class="wm" transform="translate(380 722) rotate(-35)">树图 shutu.cn</text>
<text class="wm" transform="translate(1666 722) rotate(-35)">树图 shutu.cn</text>
<text class="wm" transform="translate(380 1722) rotate(-35)">树图 shutu.cn</text>
<text class="wm" transform="translate(1666 1722) rotate(-35)">树图 shutu.cn</text>
<text class="wm" transform="translate(380 2722) rotate(-35)">树图 shutu.cn</text>
<text class="wm" transform="translate(1666 2722) rotate(-35)">树图 shutu.cn</text>
</g>
</svg>
